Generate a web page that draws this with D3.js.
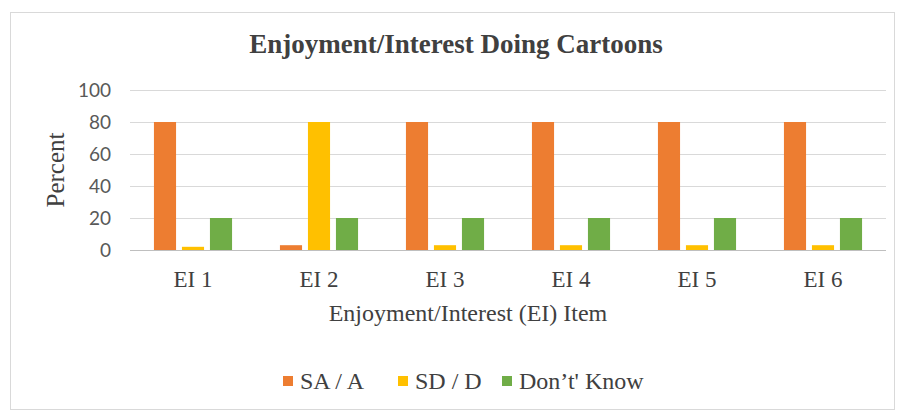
<!DOCTYPE html>
<html>
<head>
<meta charset="utf-8">
<script src="https://cdn.jsdelivr.net/npm/d3@7"></script>
<style>
  body { margin: 0; background: #fff; }
  text { font-family: "Liberation Serif", "Times New Roman", serif; fill: #404040; }
</style>
</head>
<body>
<script>
let width = 909,
    height = 414;

let categories = ["EI 1", "EI 2", "EI 3", "EI 4", "EI 5", "EI 6"];
let seriesNames = ["SA / A", "SD / D", "Don\u2019t' Know"];
let saA = [80, 3, 80, 80, 80, 80];
let sdD = [2, 80, 3, 3, 3, 3];
let dontKnow = [20, 20, 20, 20, 20, 20];
let colors = ["#ED7D31", "#FFC000", "#70AD47"];
let yTicks = [0, 20, 40, 60, 80, 100];

let series = [saA, sdD, dontKnow];

let svg = d3.select("body").append("svg")
    .attr("width", width).attr("height", height);

// outer frame
svg.append("rect")
    .attr("x", 10.5).attr("y", 12.5)
    .attr("width", 884).attr("height", 397)
    .attr("fill", "#fff").attr("stroke", "#d9d9d9");

let margin = {left: 130, right: 23, top: 90, bottom: 164};

let x = d3.scaleBand()
    .domain(categories)
    .range([margin.left, width - margin.right])
    .paddingInner(0.38).paddingOuter(0.19);

let x1 = d3.scaleBand()
    .domain(d3.range(series.length))
    .range([0, x.bandwidth()])
    .paddingInner(0.21);

let y = d3.scaleLinear()
    .domain([0, 100])
    .range([height - margin.bottom, margin.top]);

// gridlines
svg.append("g").selectAll("line")
    .data(yTicks)
    .enter().append("line")
    .attr("x1", margin.left).attr("x2", width - margin.right)
    .attr("y1", d => y(d) + 0.5).attr("y2", d => y(d) + 0.5)
    .attr("stroke", d => d === 0 ? "#bfbfbf" : "#d9d9d9")
    .attr("stroke-width", 1);

// y tick labels
svg.append("g").selectAll("text")
    .data(yTicks)
    .enter().append("text")
    .attr("x", 111)
    .attr("y", d => y(d))
    .attr("dy", "0.36em")
    .attr("text-anchor", "end")
    .style("font-family", "Lato, 'Liberation Sans', sans-serif")
    .style("fill", "#595959")
    .style("font-size", "19px")
    .text(d => d);

// bars
let groups = svg.append("g").selectAll("g")
    .data(categories)
    .enter().append("g")
    .attr("transform", d => "translate(" + x(d) + ",0)");

groups.selectAll("rect")
    .data((d, i) => series.map((s, k) => ({k: k, v: s[i]})))
    .enter().append("rect")
    .attr("x", d => x1(d.k))
    .attr("width", x1.bandwidth())
    .attr("y", d => y(d.v))
    .attr("height", d => y(0) - y(d.v))
    .attr("fill", d => colors[d.k]);

// x tick labels
svg.append("g").selectAll("text")
    .data(categories)
    .enter().append("text")
    .attr("x", d => x(d) + x.bandwidth() / 2)
    .attr("y", 287)
    .attr("text-anchor", "middle")
    .style("font-size", "23px")
    .text(d => d);

// title
svg.append("text")
    .attr("x", 456).attr("y", 53)
    .attr("text-anchor", "middle")
    .style("font-size", "27px").style("font-weight", "bold")
    .text("Enjoyment/Interest Doing Cartoons");

// axis titles
svg.append("text")
    .attr("x", 468).attr("y", 321)
    .attr("text-anchor", "middle")
    .style("font-size", "24px")
    .text("Enjoyment/Interest (EI) Item");

svg.append("text")
    .attr("transform", "translate(64," + y(50) + ") rotate(-90)")
    .attr("text-anchor", "middle")
    .style("font-size", "25px")
    .text("Percent");

// legend
let legendX = [283, 398, 502];
let legend = svg.append("g").selectAll("g")
    .data(seriesNames)
    .enter().append("g")
    .attr("transform", (d, i) => "translate(" + legendX[i] + ",381)");

legend.append("rect")
    .attr("x", 0).attr("y", -5)
    .attr("width", 10).attr("height", 10)
    .attr("fill", (d, i) => colors[i]);

legend.append("text")
    .attr("x", 17).attr("y", 0)
    .attr("dy", "0.35em")
    .style("font-size", "24px")
    .text(d => d);
</script>
</body>
</html>
